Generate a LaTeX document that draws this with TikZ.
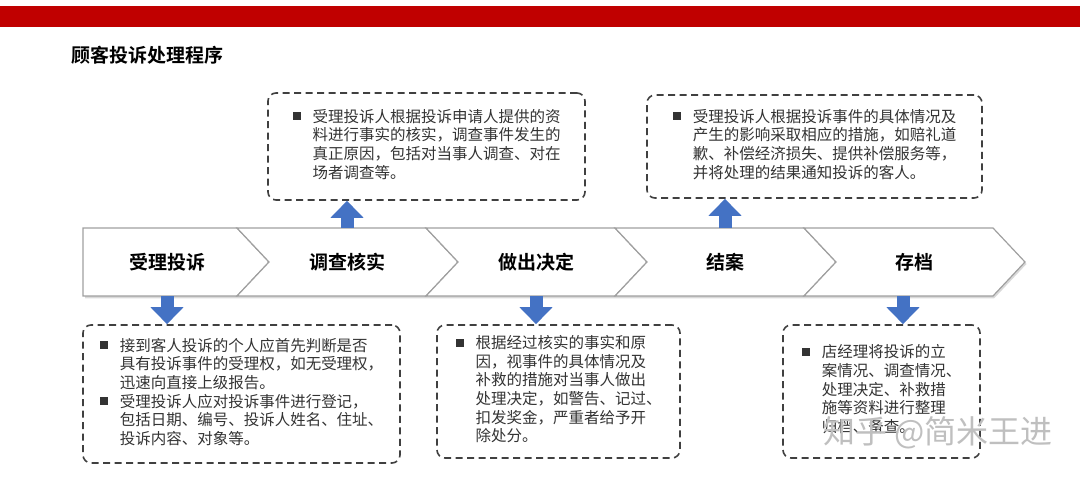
\documentclass[tikz,border=0pt]{standalone}
\usepackage{fontspec}
\setmainfont{Noto Sans CJK SC}[BoldFont={Noto Sans CJK SC Bold}]
\usetikzlibrary{arrows.meta}
\definecolor{barRed}{RGB}{192,0,0}
\definecolor{arrowBlue}{RGB}{68,114,196}
\definecolor{edgeGray}{RGB}{160,160,160}
\newcommand{\bul}{\makebox[20pt][l]{\raisebox{2pt}{\rule{8pt}{8pt}}}}

\begin{document}
\begin{tikzpicture}
[x=1pt,y=1pt,
  stepDecorate/.style={minimum height=68pt,inner sep=0pt,font=\fontsize{19}{22}\selectfont\bfseries},
  chevronDecorate/.style={draw=edgeGray,line width=1.2pt,fill=white},
  boxDecorate/.style={draw=black!75,line width=1.6pt,dash pattern=on 7pt off 4.5pt,
    rounded corners=8pt,inner sep=0pt,text=black!80,font=\fontsize{15.5}{18.5}\selectfont},
  arrowDecorate/.style={arrowBlue,line width=13pt,-{Triangle[width=32pt,length=17pt]}}]
\useasboundingbox (0,0) rectangle (1080,480);
%% header bar and title
\fill[barRed] (0,453) rectangle (1080,474);
\node (title) [anchor=west,font=\fontsize{19}{22}\selectfont\bfseries] at (68,425) {顾客投诉处理程序};
%% chevron band
\fill[black!15] (85,181.5) -- (994,181.5) -- (1026.5,216) -- (994,250) -- (85,250) -- cycle;
\draw[chevronDecorate] (83,252) -- (237,252) -- (269,218) -- (237,184) -- (83,184) -- cycle;
\foreach \x in {237,426,615,804}
{
  \draw[chevronDecorate] (\x,252) -- ++(189,0) -- ++(32,-34) -- ++(-32,-34)
    -- ++(-189,0) -- ++(32,34) -- cycle;
}
%% step names
\foreach \nodename/\x/\steptext in {
  s1/167/受理投诉, s2/347/调查核实, s3/536/做出决定, s4/725/结案, s5/914/存档}
{
  \node (\nodename) [stepDecorate] at (\x,218) {\steptext};
}
%% boxes above
\node (b2) [boxDecorate,minimum width=317pt,minimum height=107pt] at (426.5,333.5)
  {\begin{tabular}{@{}l@{}l@{}}
    \bul & 受理投诉人根据投诉申请人提供的资\\
         & 料进行事实的核实，调查事件发生的\\
         & 真正原因，包括对当事人调查、对在\\
         & 场者调查等。
  \end{tabular}};
\node (b4) [boxDecorate,minimum width=335pt,minimum height=103pt] at (814.5,333.5)
  {\begin{tabular}{@{}l@{}l@{}}
    \bul & 受理投诉人根据投诉事件的具体情况及\\
         & 产生的影响采取相应的措施，如赔礼道\\
         & 歉、补偿经济损失、提供补偿服务等，\\
         & 并将处理的结果通知投诉的客人。
  \end{tabular}};
%% boxes below
\node (b1) [boxDecorate,minimum width=317pt,minimum height=138pt] at (241.5,86)
  {\begin{tabular}{@{}l@{}l@{}}
    \bul & 接到客人投诉的个人应首先判断是否\\
         & 具有投诉事件的受理权，如无受理权，\\
         & 迅速向直接上级报告。\\
    \bul & 受理投诉人应对投诉事件进行登记，\\
         & 包括日期、编号、投诉人姓名、住址、\\
         & 投诉内容、对象等。
  \end{tabular}};
\node (b3) [boxDecorate,minimum width=243pt,minimum height=133pt] at (558.5,88.5)
  {\begin{tabular}{@{}l@{}l@{}}
    \bul & 根据经过核实的事实和原\\
         & 因，视事件的具体情况及\\
         & 补救的措施对当事人做出\\
         & 处理决定，如警告、记过、\\
         & 扣发奖金，严重者给予开\\
         & 除处分。
  \end{tabular}};
\node (b5) [boxDecorate,minimum width=197pt,minimum height=133pt] at (881.5,88.5)
  {\begin{tabular}{@{}l@{}l@{}}
    \bul & 店经理将投诉的立\\
         & 案情况、调查情况、\\
         & 处理决定、补救措\\
         & 施等资料进行整理\\
         & 归档、备查。
  \end{tabular}};
%% blue arrows
\draw[arrowDecorate] (s2.north) -- (s2.north |- b2.south);
\draw[arrowDecorate] (s4.north) -- (s4.north |- b4.south);
\draw[arrowDecorate] (s1.south) -- (s1.south |- b1.north);
\draw[arrowDecorate] (s3.south) -- (s3.south |- b3.north);
\coordinate (s5a) at ([xshift=-11pt]s5.south);
\draw[arrowDecorate] (s5a) -- (s5a |- b5.north);
%% watermark
\node (mark) [text=black!25,font=\fontsize{32}{36}\selectfont] at (938,47) {知乎 @简米王进};
\end{tikzpicture}
\end{document}
